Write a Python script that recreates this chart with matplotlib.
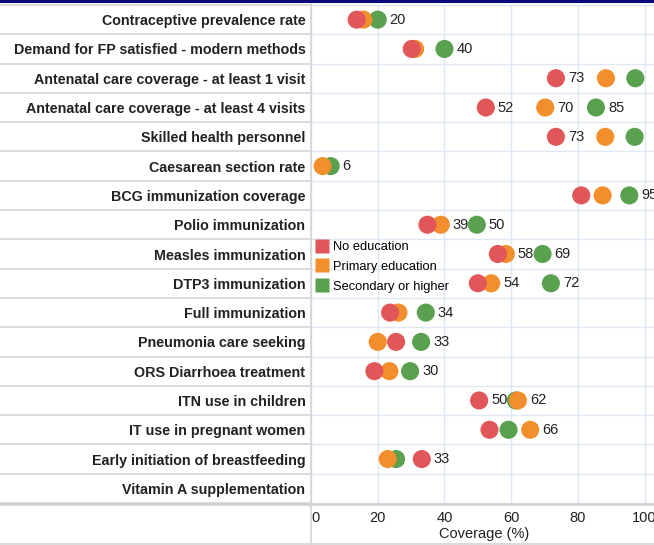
import matplotlib
matplotlib.use("Agg")
import matplotlib.pyplot as plt
from matplotlib.transforms import blended_transform_factory
from matplotlib.lines import Line2D
import numpy as np

plt.rcParams['font.family'] = ['Liberation Sans', 'DejaVu Sans']

indicators = [
    "Contraceptive prevalence rate",
    "Demand for FP satisfied - modern methods",
    "Antenatal care coverage - at least 1 visit",
    "Antenatal care coverage - at least 4 visits",
    "Skilled health personnel",
    "Caesarean section rate",
    "BCG immunization coverage",
    "Polio immunization",
    "Measles immunization",
    "DTP3 immunization",
    "Full immunization",
    "Pneumonia care seeking",
    "ORS Diarrhoea treatment",
    "ITN use in children",
    "IT use in pregnant women",
    "Early initiation of breastfeeding",
    "Vitamin A supplementation",
]

no_education = [13.7, 30.2, 73.4, 52.4, 73.4, np.nan, 81.0, 34.9, 56.0, 50.0,
                23.7, 25.5, 19.0, 50.4, 53.5, 33.2, np.nan]
primary = [15.7, 31.2, 88.4, 70.2, 88.2, 3.5, 87.4, 38.9, 58.4, 54.0,
           26.2, 20.0, 23.5, 62.0, 65.7, 23.0, np.nan]
secondary = [20.0, 40.0, 97.2, 85.4, 97.0, 5.9, 95.4, 49.7, 69.4, 71.9,
             34.4, 33.0, 29.7, 61.4, 59.2, 25.5, np.nan]

# which values carry a visible label (as in the original)
show_no_edu = [0, 0, 1, 1, 1, 0, 0, 0, 0, 0, 0, 0, 0, 1, 0, 1, 0]
show_primary = [0, 0, 0, 1, 0, 0, 0, 1, 1, 1, 0, 0, 0, 1, 1, 0, 0]
show_secondary = [1, 1, 0, 1, 0, 1, 1, 1, 1, 1, 1, 1, 1, 0, 0, 0, 0]

series_names = ["No education", "Primary education", "Secondary or higher"]
colors = ["#E15759", "#F28E2B", "#59A14F"]
xticks = [0, 20, 40, 60, 80, 100]

W, H = 654, 545
fig = plt.figure(figsize=(W / 100, H / 100), dpi=100)
left_px, right_px, top_px, bot_px = 311, 658, 5, 503
ax = fig.add_axes([left_px / W, 1 - bot_px / H, (right_px - left_px) / W,
                   (bot_px - top_px) / H])

n = len(indicators)
y = np.arange(n)
ax.set_ylim(n - 0.5, -0.5)
ax.set_xlim(0, 104)

# grid
grid_c = "#dde8f4"
for xt in xticks:
    ax.axvline(xt, color=grid_c, lw=1, zorder=0)
for b in np.arange(-0.5, n, 1.0):
    ax.axhline(b, color=grid_c, lw=1, zorder=0)

# label column lines
tr = blended_transform_factory(fig.transFigure, ax.transData)
for b in np.arange(-0.5, n, 1.0):
    ax.plot([0, left_px / W], [b, b], color="#d4d4d4", lw=1.2,
            transform=tr, clip_on=False, zorder=0)

# points (green bottom, red top)
data = [no_education, primary, secondary]
shows = [show_no_edu, show_primary, show_secondary]
for k in [2, 1, 0]:
    vals = np.array(data[k], dtype=float)
    ax.scatter(vals, y, s=170, color=colors[k], edgecolors='none',
               zorder=3 + (2 - k), clip_on=False)
for k in range(3):
    for i, v in enumerate(data[k]):
        if shows[k][i] and not np.isnan(v):
            ax.annotate(f"{v:.0f}", (v, i), xytext=(8.6, 0),
                        textcoords='offset points', ha='left', va='center',
                        fontsize=10.5, color="#222222", zorder=6,
                        annotation_clip=False)

# axes styling
for s in ['top', 'right', 'left', 'bottom']:
    ax.spines[s].set_visible(False)
ax.set_yticks(y)
ax.set_yticklabels(indicators, fontsize=10.3, fontweight='bold', color="#222222")
ax.tick_params(axis='y', length=0, pad=4)
ax.set_xticks(xticks)
ax.set_xticklabels([str(t) for t in xticks], fontsize=10.5, color="#222222")
ax.get_xticklabels()[0].set_ha('left')
ax.tick_params(axis='x', length=0, pad=6)
ax.set_xlabel("Coverage (%)", fontsize=10.5, color="#222222", labelpad=1)

# bottom axis line across full width
fig.add_artist(Line2D([0, 1], [1 - 503.5 / H, 1 - 503.5 / H], color="#cccccc",
                      lw=1.8, transform=fig.transFigure))
# bottom border and vertical separator
fig.add_artist(Line2D([0, 1], [1 - 543.5 / H, 1 - 543.5 / H], color="#d4d4d4",
                      lw=1.2, transform=fig.transFigure))
fig.add_artist(Line2D([left_px / W, left_px / W], [0, 1 - 4 / H],
                      color="#d4d4d4", lw=1.2, transform=fig.transFigure))
# top navy line
fig.add_artist(Line2D([0, 1], [1 - 1.2 / H, 1 - 1.2 / H], color="#0a0a7a",
                      lw=2.2, transform=fig.transFigure))

# legend
handles = [Line2D([], [], marker='s', ls='none', markersize=10,
                  markerfacecolor=c, markeredgecolor='none') for c in colors]
ax.legend(handles, series_names, loc='upper left',
          bbox_to_anchor=((316 - left_px) / (right_px - left_px),
                          1 - (241 - top_px) / (bot_px - top_px)),
          frameon=False, fontsize=9.3, handlelength=0.9, handletextpad=0.4,
          labelspacing=0.6, borderaxespad=0, borderpad=0.0)

fig.savefig("out.png", dpi=100)
